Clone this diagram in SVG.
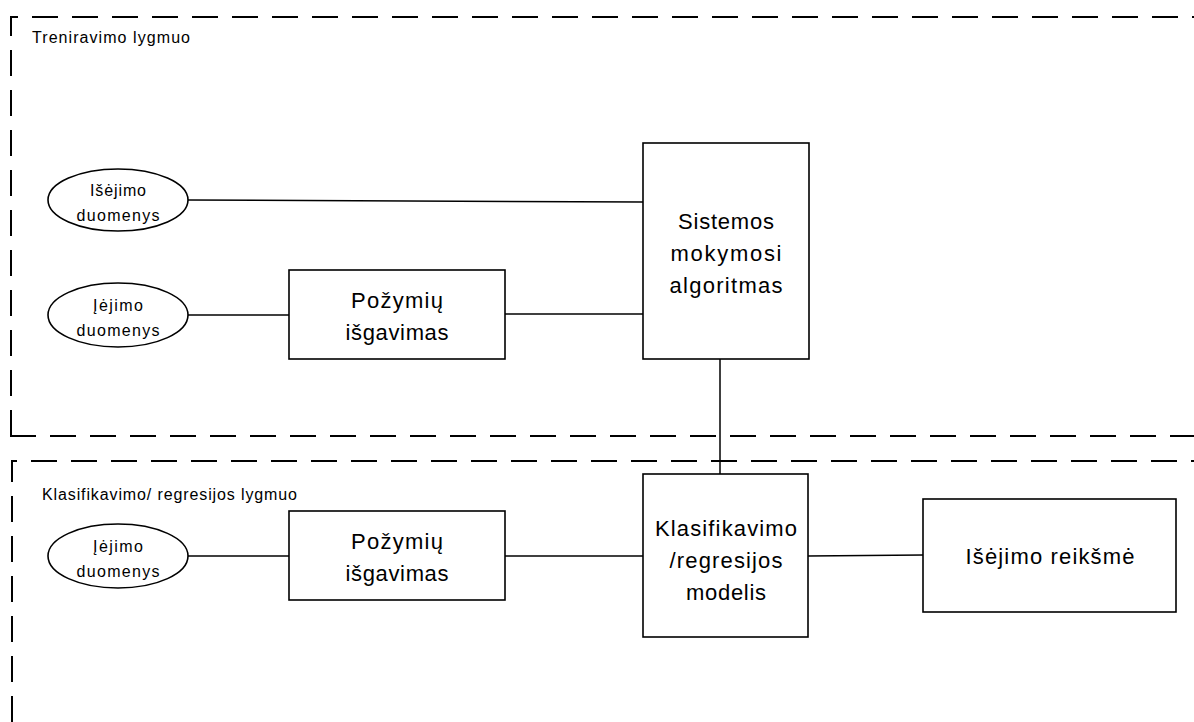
<svg xmlns="http://www.w3.org/2000/svg" width="1194" height="722" viewBox="0 0 1194 722">
<style>
.bg{fill:#ffffff}
.panel{fill:none;stroke:#000;stroke-width:2;stroke-dasharray:26 14}
.box{fill:#fff;stroke:#000;stroke-width:1.6}
.edge{fill:none;stroke:#000;stroke-width:1.5}
text{font-family:"Liberation Sans",Arial,sans-serif;fill:#000}
.lbl{font-size:22px;text-anchor:middle}
.sm{font-size:16px;text-anchor:middle}
.ttl{font-size:16px}
</style>
<rect class="bg" x="0" y="0" width="1194" height="722"/>
<g id="panels">
<path class="panel" d="M11,436 L11,17 L1194,17"/>
<path class="panel" d="M10,436 L1194,436"/>
<path class="panel" d="M12,722 L12,461 L1194,461"/>
<text class="ttl" x="32" y="43" textLength="158" lengthAdjust="spacing">Treniravimo lygmuo</text>
<text class="ttl" x="42" y="500" textLength="255" lengthAdjust="spacing">Klasifikavimo/ regresijos lygmuo</text>
</g>
<g id="connectors">
<path class="edge" d="M188,200 L643,202"/>
<path class="edge" d="M188,315 L289,315"/>
<path class="edge" d="M505,314 L643,314"/>
<path class="edge" d="M720,359 L720,474"/>
<path class="edge" d="M188,556 L289,556"/>
<path class="edge" d="M505,556 L643,556"/>
<path class="edge" d="M808,556 L923,555"/>
</g>
<g id="out-data">
<ellipse class="box" cx="118" cy="200" rx="70" ry="31"/>
<text class="sm" x="118" y="196" textLength="56" lengthAdjust="spacing">Išėjimo</text>
<text class="sm" x="118" y="221" textLength="83" lengthAdjust="spacing">duomenys</text>
</g>
<g id="in-data-1">
<ellipse class="box" cx="118" cy="315" rx="70" ry="32"/>
<text class="sm" x="118" y="311" textLength="50" lengthAdjust="spacing">Įėjimo</text>
<text class="sm" x="118" y="336" textLength="83" lengthAdjust="spacing">duomenys</text>
</g>
<g id="features-1">
<rect class="box" x="289" y="270" width="216" height="89"/>
<text class="lbl" x="397" y="308" textLength="92" lengthAdjust="spacing">Požymių</text>
<text class="lbl" x="397" y="340" textLength="103" lengthAdjust="spacing">išgavimas</text>
</g>
<g id="learning">
<rect class="box" x="643" y="143" width="166" height="216"/>
<text class="lbl" x="726" y="229" textLength="96" lengthAdjust="spacing">Sistemos</text>
<text class="lbl" x="726" y="261" textLength="111" lengthAdjust="spacing">mokymosi</text>
<text class="lbl" x="726" y="293" textLength="113" lengthAdjust="spacing">algoritmas</text>
</g>
<g id="in-data-2">
<ellipse class="box" cx="118" cy="556" rx="70" ry="32"/>
<text class="sm" x="118" y="552" textLength="50" lengthAdjust="spacing">Įėjimo</text>
<text class="sm" x="118" y="577" textLength="83" lengthAdjust="spacing">duomenys</text>
</g>
<g id="features-2">
<rect class="box" x="289" y="511" width="216" height="89"/>
<text class="lbl" x="397" y="549" textLength="92" lengthAdjust="spacing">Požymių</text>
<text class="lbl" x="397" y="581" textLength="103" lengthAdjust="spacing">išgavimas</text>
</g>
<g id="model">
<rect class="box" x="643" y="474" width="165" height="163"/>
<text class="lbl" x="726" y="536" textLength="142" lengthAdjust="spacing">Klasifikavimo</text>
<text class="lbl" x="726" y="568" textLength="113" lengthAdjust="spacing">/regresijos</text>
<text class="lbl" x="726" y="600" textLength="80" lengthAdjust="spacing">modelis</text>
</g>
<g id="output">
<rect class="box" x="923" y="499" width="253" height="113"/>
<text class="lbl" x="1050" y="564" textLength="169" lengthAdjust="spacing">Išėjimo reikšmė</text>
</g>
</svg>
